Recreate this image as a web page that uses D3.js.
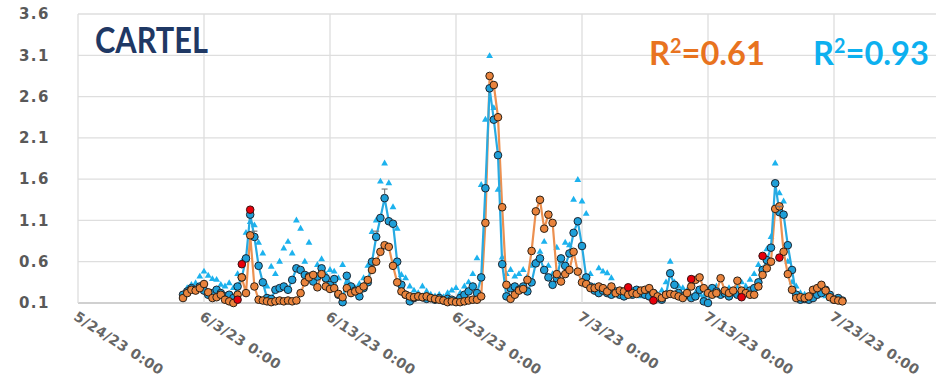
<!DOCTYPE html>
<html>
<head>
<meta charset="utf-8">
<script src="https://cdn.jsdelivr.net/npm/d3@7"></script>
<style>
  html, body { margin: 0; padding: 0; background: #fff; }
  svg { display: block; }
</style>
</head>
<body>
<script>
// ---- data: samples every 8 hours starting 6/1/23 08:00 ----
const sampleStart = "2023-06-01T08:00";
const sampleStepHours = 8;

const orangeValues = [
  0.16,0.22,0.26,0.25,0.28,0.33,0.23,0.16,0.17,0.20,
  0.14,0.12,0.10,0.20,0.41,0.22,0.92,0.30,0.14,0.13,
  0.12,0.11,0.12,0.13,0.12,0.13,0.12,0.13,0.22,0.35,
  0.41,0.44,0.29,0.45,0.30,0.27,0.28,0.21,0.17,0.28,
  0.22,0.24,0.26,0.30,0.38,0.50,0.60,0.72,0.80,0.78,
  0.55,0.35,0.24,0.20,0.18,0.17,0.18,0.17,0.18,0.16,
  0.15,0.14,0.13,0.11,0.12,0.11,0.11,0.12,0.13,0.14,
  0.14,0.18,1.07,2.85,2.74,2.35,1.26,0.32,0.15,0.20,
  0.25,0.27,0.38,0.73,1.21,1.35,1.00,1.17,1.07,0.45,
  0.36,0.45,0.50,0.72,0.48,0.35,0.33,0.28,0.28,0.30,
  0.28,0.24,0.30,0.22,0.25,0.24,0.20,0.22,0.21,0.25,
  0.26,0.28,0.22,0.18,0.16,0.20,0.21,0.20,0.18,0.16,
  0.22,0.30,0.38,0.41,0.28,0.22,0.20,0.22,0.40,0.25,
  0.22,0.25,0.37,0.25,0.22,0.20,0.20,0.30,0.44,0.52,
  0.60,1.24,1.27,0.72,0.45,0.26,0.16,0.17,0.16,0.18,
  0.26,0.28,0.32,0.25,0.17,0.14,0.13,0.12
];

const blueValues = [
  0.20,0.24,0.28,0.26,0.30,0.25,0.20,0.22,0.26,0.22,
  0.18,0.20,0.16,0.30,0.41,0.64,1.17,0.90,0.55,0.35,
  0.16,0.15,0.26,0.28,0.30,0.26,0.38,0.52,0.50,0.44,
  0.42,0.36,0.42,0.52,0.40,0.32,0.39,0.20,0.11,0.43,
  0.30,0.25,0.18,0.28,0.35,0.60,0.90,1.13,1.37,1.09,
  1.06,0.60,0.32,0.20,0.12,0.16,0.18,0.17,0.15,0.16,
  0.14,0.16,0.13,0.15,0.14,0.12,0.16,0.20,0.24,0.30,
  0.22,0.41,1.49,2.70,2.32,1.89,0.57,0.18,0.28,0.30,
  0.26,0.30,0.24,0.35,0.58,0.64,0.50,0.41,0.32,0.40,
  0.64,0.55,0.70,0.95,1.09,0.79,0.41,0.30,0.25,0.22,
  0.25,0.22,0.20,0.24,0.20,0.18,0.22,0.20,0.26,0.22,
  0.20,0.18,0.22,0.16,0.14,0.20,0.46,0.32,0.22,0.18,
  0.20,0.16,0.18,0.26,0.12,0.10,0.28,0.24,0.20,0.22,
  0.18,0.24,0.20,0.18,0.22,0.25,0.28,0.35,0.50,0.62,
  0.77,1.55,1.20,1.17,0.80,0.50,0.20,0.14,0.15,0.14,
  0.16,0.20,0.22,0.26,0.20,0.14,0.16,0.13
];

const triangleValues = [
  0.20,0.28,0.32,0.34,0.42,0.48,0.43,0.39,0.38,0.32,
  0.30,0.34,0.28,0.45,0.60,0.95,1.08,1.04,0.83,0.70,
  0.30,0.54,0.45,0.60,0.76,0.84,0.70,1.10,1.00,0.60,
  0.83,0.45,0.56,0.63,0.45,0.50,0.48,0.40,0.56,0.35,
  0.30,0.28,0.33,0.40,0.55,0.96,1.10,1.57,1.79,1.55,
  1.26,1.00,0.44,0.40,0.30,0.25,0.22,0.30,0.24,0.20,
  0.18,0.20,0.17,0.22,0.25,0.28,0.22,0.30,0.35,0.45,
  0.64,1.53,2.32,3.09,2.46,1.47,0.65,0.45,0.50,0.42,
  0.45,0.50,0.42,0.55,0.60,0.72,0.84,0.55,0.45,0.77,
  0.60,0.83,0.80,1.35,1.59,1.33,1.18,0.45,0.30,0.52,
  0.48,0.46,0.40,0.20,0.18,0.20,0.22,0.25,0.20,0.18,
  0.22,0.20,0.15,0.20,0.25,0.35,0.60,0.35,0.30,0.28,
  0.25,0.30,0.22,0.20,0.18,0.22,0.28,0.30,0.22,0.25,
  0.28,0.20,0.30,0.35,0.30,0.38,0.45,0.56,0.66,0.75,
  0.90,1.79,1.43,1.33,0.60,0.35,0.30,0.22,0.20,0.15,
  0.18,0.25,0.22,0.18,0.15,0.14,0.12,null
];

// flagged readings (red markers)
const flaggedTimes = ["2023-06-05T16:00","2023-06-06T00:00","2023-06-06T16:00","2023-07-06T16:00",
                      "2023-07-08T16:00","2023-07-11T16:00","2023-07-15T16:00","2023-07-17T08:00","2023-07-18T16:00"];
const flaggedValues = [0.14, 0.57, 1.23, 0.29, 0.13, 0.39, 0.17, 0.67, 0.65];

// error whiskers on a few blue readings
const errTimes = ["2023-06-07T00:00","2023-06-16T16:00","2023-06-17T08:00","2023-07-18T16:00"];
const errLow   = [0.90, 0.90, 1.37, 1.20];
const errHigh  = [0.97, 0.97, 1.48, 1.27];

const yTicks = [0.1, 0.6, 1.1, 1.6, 2.1, 2.6, 3.1, 3.6];
const xTickDates  = ["2023-05-24","2023-06-03","2023-06-13","2023-06-23","2023-07-03","2023-07-13","2023-07-23","2023-08-02"];
const xTickLabels = ["5/24/23 0:00","6/3/23 0:00","6/13/23 0:00","6/23/23 0:00","7/3/23 0:00","7/13/23 0:00","7/23/23 0:00",""];

const titleText = "CARTEL";
const r2Orange = "0.61";
const r2Blue = "0.93";

// ---- layout ----
const W = 936, H = 381;
const plot = { left: 78, top: 14, bottom: 303 };
const pxPerDay = 12.6;

const svg = d3.select("body").append("svg").attr("width", W).attr("height", H);

const parse = s => new Date(s);
const t0 = parse(sampleStart);
const times = orangeValues.map((_, i) => d3.timeHour.offset(t0, i * sampleStepHours));

const xDomain = [parse(xTickDates[0]), parse(xTickDates[xTickDates.length - 1])];
const nDays = d3.timeDay.count(xDomain[0], xDomain[1]);
const x = d3.scaleTime().domain(xDomain).range([plot.left, plot.left + nDays * pxPerDay]);
const y = d3.scaleLinear().domain([0.1, 3.6]).range([plot.bottom, plot.top]);

// gridlines
const grid = svg.append("g");
grid.selectAll("line.h").data(yTicks).join("line")
  .attr("x1", plot.left).attr("x2", W)
  .attr("y1", d => y(d)).attr("y2", d => y(d))
  .attr("stroke", d => d === 0.1 ? "#d0d0d0" : "#dedede")
  .attr("stroke-width", d => d === 0.1 ? 2 : 1.3);
grid.selectAll("line.v").data(xTickDates).join("line")
  .attr("x1", d => x(parse(d))).attr("x2", d => x(parse(d)))
  .attr("y1", plot.top).attr("y2", plot.bottom)
  .attr("stroke", "#dedede").attr("stroke-width", 1.3);

// y axis labels
const yAxis = d3.axisLeft(y).tickValues(yTicks).tickFormat(d3.format(".1f")).tickSize(0).tickPadding(0);
const gy = svg.append("g").attr("transform", "translate(50,0)").call(yAxis);
gy.select(".domain").remove();
gy.selectAll("text")
  .attr("font-family", "DejaVu Sans, Verdana, sans-serif")
  .attr("font-weight", "bold").attr("font-size", 15)
  .attr("letter-spacing", "1.5px")
  .attr("fill", "#595959");

// x axis labels (rotated)
const xAxis = d3.axisBottom(x).tickValues(xTickDates.map(parse))
  .tickFormat((d, i) => xTickLabels[i]).tickSize(0).tickPadding(0);
const gx = svg.append("g").attr("transform", `translate(0,${plot.bottom + 12})`).call(xAxis);
gx.select(".domain").remove();
gx.selectAll("text")
  .attr("text-anchor", "start")
  .attr("dy", "0.35em").attr("y", 0)
  .attr("transform", "translate(-3,0) rotate(33)")
  .attr("font-family", "DejaVu Sans, Verdana, sans-serif")
  .attr("font-weight", "bold").attr("font-size", 14)
  .attr("letter-spacing", "0.4px")
  .attr("fill", "#666666");

// series records
const rec = vals => vals.map((v, i) => ({ t: times[i], v }));
const orange = rec(orangeValues);
const blue = rec(blueValues);
const tri = rec(triangleValues).filter(d => d.v != null);
const flagged = flaggedTimes.map((s, i) => ({ t: parse(s), v: flaggedValues[i] }));
const errs = errTimes.map((s, i) => ({ t: parse(s), lo: errLow[i], hi: errHigh[i] }));

const marks = svg.append("g");

// light-blue triangles
marks.append("g").selectAll("path").data(tri).join("path")
  .attr("d", d3.symbol(d3.symbolTriangle, 20))
  .attr("transform", d => `translate(${x(d.t)},${y(d.v)})`)
  .attr("fill", "#1cb2ee");

const line = d3.line().defined(d => d.v != null).x(d => x(d.t)).y(d => y(d.v));

marks.append("path").datum(orange).attr("d", line)
  .attr("fill", "none").attr("stroke", "#ec9050").attr("stroke-width", 2.2).attr("stroke-linejoin", "round");
marks.append("path").datum(blue).attr("d", line)
  .attr("fill", "none").attr("stroke", "#27aae2").attr("stroke-width", 2.2).attr("stroke-linejoin", "round");

marks.append("g").selectAll("circle").data(blue.filter(d => d.v != null)).join("circle")
  .attr("cx", d => x(d.t)).attr("cy", d => y(d.v)).attr("r", 3.8)
  .attr("fill", "#1f9fd8").attr("stroke", "#1c2530").attr("stroke-width", 1);

marks.append("g").selectAll("circle").data(orange.filter(d => d.v != null)).join("circle")
  .attr("cx", d => x(d.t)).attr("cy", d => y(d.v)).attr("r", 3.8)
  .attr("fill", "#e9833c").attr("stroke", "#2a2016").attr("stroke-width", 1);

marks.append("g").selectAll("circle").data(flagged).join("circle")
  .attr("cx", d => x(d.t)).attr("cy", d => y(d.v)).attr("r", 3.8)
  .attr("fill", "#e8000b").attr("stroke", "#3a1010").attr("stroke-width", 1);

// error whiskers
const eg = marks.append("g").attr("stroke", "#7a7a7a").attr("stroke-width", 1.2);
errs.forEach(d => {
  const cx = x(d.t);
  eg.append("line").attr("x1", cx).attr("x2", cx).attr("y1", y(d.lo) - 4).attr("y2", y(d.hi));
  eg.append("line").attr("x1", cx - 3).attr("x2", cx + 3).attr("y1", y(d.hi)).attr("y2", y(d.hi));
});

// title and R² annotations
function fitWidth(sel, target) {
  const w = sel.node().getComputedTextLength();
  const tx = +sel.attr("data-x"), ty = +sel.attr("data-y");
  sel.attr("transform", `translate(${tx},${ty}) scale(${target / w},1)`);
}
const labelFont = "Lato, 'Open Sans', sans-serif";

const title = svg.append("text").attr("data-x", 95).attr("data-y", 53)
  .attr("font-family", labelFont).attr("font-weight", 700).attr("font-size", 36)
  .attr("fill", "#1f3864").text(titleText);
fitWidth(title, 113);

function r2Label(xPos, value, color, width) {
  const t = svg.append("text").attr("data-x", xPos).attr("data-y", 65)
    .attr("font-family", labelFont).attr("font-weight", 700).attr("font-size", 33)
    .attr("fill", color);
  t.append("tspan").text("R");
  t.append("tspan").attr("font-size", 20).attr("dy", -12).text("2");
  t.append("tspan").attr("dy", 12).text("=" + value);
  fitWidth(t, width);
}
r2Label(649, r2Orange, "#e8731f", 116);
r2Label(813, r2Blue, "#0db0ef", 116);
</script>
</body>
</html>
